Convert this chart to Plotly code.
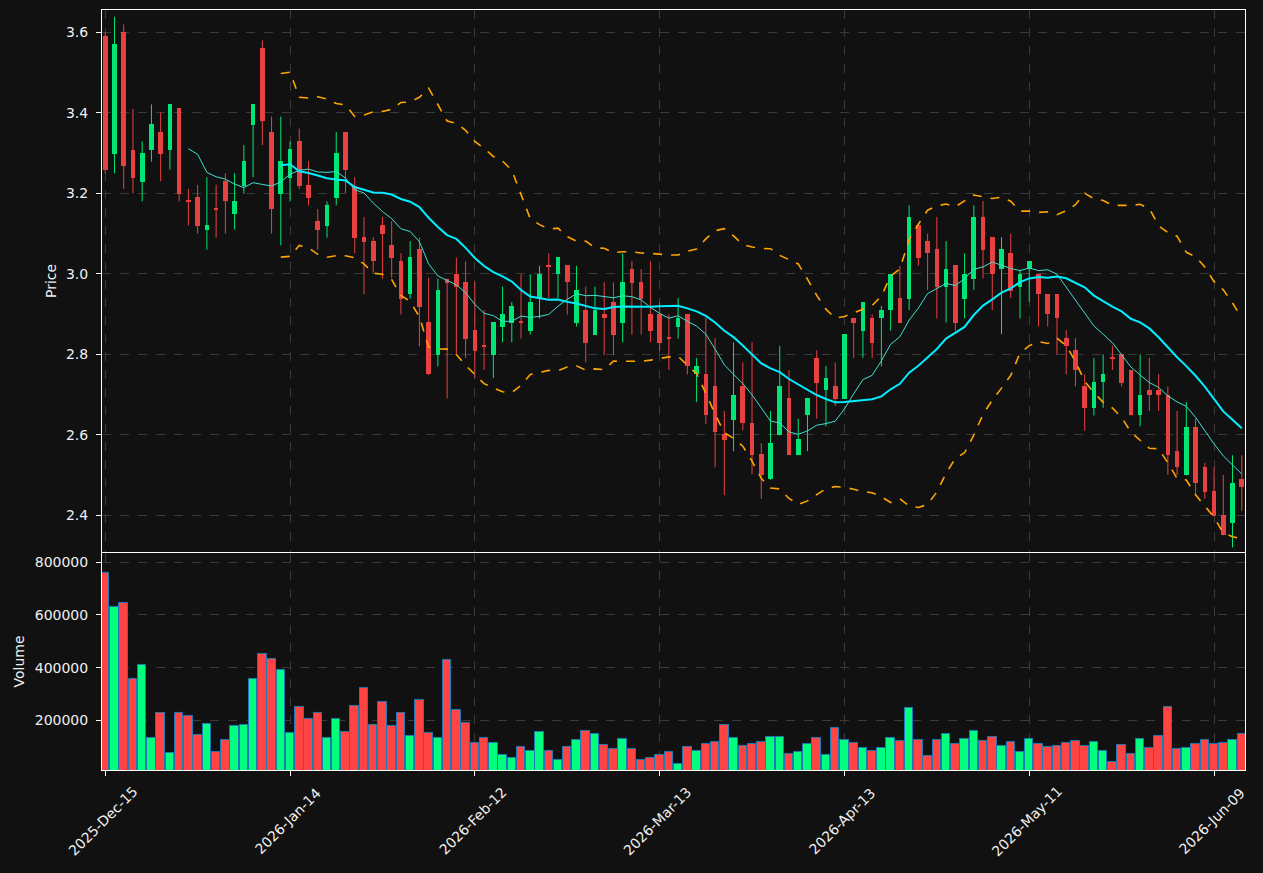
import numpy as np
import pandas as pd
import plotly.graph_objects as go
from plotly.subplots import make_subplots

# ---------------- data ----------------
holidays = ["2025-12-25", "2026-01-01", "2026-01-19", "2026-02-16", "2026-04-03", "2026-05-25"]
dates = [d for d in pd.bdate_range("2025-12-15", "2026-06-12") if d.strftime("%Y-%m-%d") not in holidays]
date_keys = [d.strftime("%Y-%m-%d") for d in dates]
date_labels = [d.strftime("%Y-%b-%d") for d in dates]

opens = [3.591, 3.299, 3.600, 3.309, 3.229, 3.308, 3.353, 3.308, 3.412, 3.181,
         3.191, 3.110, 3.162, 3.231, 3.149, 3.219, 3.371, 3.561, 3.353, 3.199,
         3.239, 3.330, 3.221, 3.131, 3.119, 3.189, 3.353, 3.219, 3.091, 3.082,
         3.122, 3.071, 3.032, 2.949, 3.062, 2.880, 2.798, 2.988, 3.000, 2.980,
         2.860, 2.821, 2.798, 2.869, 2.879, 2.880, 2.859, 2.940, 3.021, 2.999,
         3.022, 2.879, 2.910, 2.849, 2.900, 2.930, 2.879, 3.012, 2.979, 2.900,
         2.900, 2.841, 2.869, 2.900, 2.750, 2.752, 2.722, 2.601, 2.637, 2.722,
         2.629, 2.551, 2.490, 2.599, 2.692, 2.549, 2.648, 2.791, 2.711, 2.720,
         2.690, 2.891, 2.859, 2.891, 2.889, 2.910, 2.940, 2.938, 3.122, 3.082,
         3.062, 2.968, 3.022, 2.938, 2.988, 3.142, 3.091, 3.012, 3.051, 2.968,
         3.012, 3.000, 2.949, 2.949, 2.840, 2.810, 2.720, 2.667, 2.731, 2.792,
         2.800, 2.761, 2.648, 2.711, 2.711, 2.700, 2.559, 2.500, 2.620, 2.520,
         2.460, 2.400, 2.380, 2.490]
highs = [3.600, 3.639, 3.620, 3.410, 3.329, 3.421, 3.401, 3.422, 3.412, 3.211,
         3.221, 3.240, 3.221, 3.250, 3.250, 3.320, 3.422, 3.580, 3.391, 3.391,
         3.329, 3.361, 3.280, 3.161, 3.180, 3.353, 3.353, 3.240, 3.141, 3.091,
         3.141, 3.131, 3.051, 3.081, 3.090, 2.990, 2.988, 2.988, 3.040, 3.031,
         2.980, 2.910, 2.880, 2.968, 2.930, 2.999, 2.999, 3.020, 3.051, 3.042,
         3.022, 3.020, 2.968, 2.968, 2.979, 2.979, 3.051, 3.032, 3.012, 3.031,
         2.930, 2.899, 2.940, 2.900, 2.791, 2.891, 2.840, 2.659, 2.830, 2.780,
         2.830, 2.579, 2.659, 2.821, 2.761, 2.640, 2.692, 2.810, 2.771, 2.780,
         2.850, 2.891, 2.930, 2.899, 2.920, 3.000, 3.020, 3.170, 3.122, 3.100,
         3.141, 3.081, 3.022, 3.051, 3.170, 3.181, 3.091, 3.091, 3.100, 3.010,
         3.031, 3.000, 2.949, 2.949, 2.860, 2.840, 2.750, 2.791, 2.800, 2.821,
         2.800, 2.761, 2.800, 2.791, 2.751, 2.720, 2.659, 2.681, 2.640, 2.530,
         2.519, 2.500, 2.549, 2.549]
lows = [3.250, 3.250, 3.211, 3.200, 3.180, 3.279, 3.230, 3.259, 3.180, 3.120,
        3.100, 3.060, 3.090, 3.100, 3.110, 3.199, 3.240, 3.320, 3.100, 3.071,
        3.180, 3.211, 3.170, 3.060, 3.090, 3.170, 3.200, 3.051, 2.949, 3.003,
        2.988, 2.990, 2.899, 2.938, 2.820, 2.748, 2.770, 2.690, 2.802, 2.791,
        2.741, 2.761, 2.741, 2.830, 2.830, 2.839, 2.849, 2.889, 2.940, 2.940,
        2.899, 2.869, 2.780, 2.849, 2.798, 2.798, 2.830, 2.849, 2.849, 2.830,
        2.807, 2.761, 2.839, 2.750, 2.681, 2.627, 2.519, 2.450, 2.559, 2.611,
        2.502, 2.441, 2.488, 2.599, 2.549, 2.549, 2.559, 2.640, 2.621, 2.672,
        2.690, 2.791, 2.791, 2.791, 2.770, 2.859, 2.879, 2.910, 3.020, 2.960,
        2.889, 2.879, 2.859, 2.889, 2.960, 2.988, 2.910, 2.850, 2.940, 2.889,
        2.930, 2.869, 2.869, 2.800, 2.750, 2.720, 2.610, 2.648, 2.667, 2.761,
        2.720, 2.648, 2.621, 2.659, 2.659, 2.500, 2.500, 2.499, 2.450, 2.441,
        2.399, 2.350, 2.320, 2.411]
closes = [3.258, 3.571, 3.269, 3.239, 3.301, 3.372, 3.299, 3.422, 3.199, 3.179,
          3.119, 3.122, 3.160, 3.180, 3.181, 3.281, 3.422, 3.379, 3.160, 3.281,
          3.310, 3.219, 3.189, 3.110, 3.171, 3.301, 3.259, 3.090, 3.080, 3.031,
          3.100, 3.040, 2.938, 3.042, 2.918, 2.750, 2.960, 2.977, 2.968, 2.839,
          2.808, 2.819, 2.880, 2.900, 2.920, 2.878, 2.930, 2.999, 3.019, 3.042,
          2.979, 2.960, 2.828, 2.910, 2.889, 2.849, 2.979, 2.977, 2.938, 2.859,
          2.828, 2.839, 2.891, 2.770, 2.771, 2.648, 2.608, 2.588, 2.700, 2.629,
          2.549, 2.500, 2.579, 2.720, 2.549, 2.590, 2.692, 2.729, 2.741, 2.690,
          2.850, 2.879, 2.930, 2.828, 2.910, 3.000, 2.879, 3.142, 3.040, 3.051,
          2.968, 3.012, 2.879, 3.000, 3.142, 3.060, 3.000, 3.062, 2.958, 3.000,
          3.031, 2.949, 2.899, 2.889, 2.820, 2.761, 2.667, 2.731, 2.751, 2.790,
          2.729, 2.648, 2.700, 2.700, 2.700, 2.549, 2.519, 2.620, 2.480, 2.458,
          2.399, 2.350, 2.480, 2.469]
volumes = [758000, 631700, 644300, 355700, 408900, 131700, 226600, 74700, 226600, 215200,
           143000, 184800, 78500, 124100, 177200, 181000, 355700, 450600, 431700, 389900,
           150600, 249400, 203800, 226600, 131700, 203800, 154400, 253200, 321500, 181000,
           268400, 177200, 226600, 139300, 276000, 150600, 131700, 427900, 238000, 188600,
           112700, 131700, 112700, 67100, 55700, 97500, 82300, 154400, 82300, 48100,
           97500, 124100, 158200, 146800, 105100, 89900, 127900, 89900, 48100, 55700,
           67100, 78500, 32900, 97500, 82300, 108900, 116500, 181000, 131700, 101300,
           108900, 116500, 135500, 135500, 70900, 78500, 108900, 131700, 67100, 169600,
           124100, 112700, 93700, 82300, 93700, 131700, 120300, 245600, 124100, 63300,
           124100, 146800, 108900, 127900, 158200, 120300, 135500, 101300, 116500, 78500,
           127900, 108900, 97500, 101300, 112700, 120300, 101300, 116500, 82300, 40500,
           105100, 70900, 127900, 93700, 139300, 249400, 89900, 93700, 108900, 124100,
           108900, 112700, 124100, 146800]

price_ticks = [2.4, 2.6, 2.8, 3.0, 3.2, 3.4, 3.6]
volume_ticks = [200000, 400000, 600000, 800000]

# ---------------- indicators ----------------
cs = pd.Series(closes)
ma10 = cs.rolling(10).mean()
ma20 = cs.rolling(20).mean()
sd20 = cs.rolling(20).std(ddof=0)
bb_up = ma20 + 2 * sd20
bb_lo = ma20 - 2 * sd20

UP_C = "#00e676"
DN_C = "#e84142"
VUP_C = "#00ff7f"
VDN_C = "#ff4444"
BG = "#111111"
GRID = "#3a3a3a"
TXT = "#f0f0f0"
FONT = "DejaVu Sans"

is_up = [c >= o for o, c in zip(opens, closes)]

fig = make_subplots(rows=2, cols=1, shared_xaxes=True,
                    row_heights=[0.714, 0.286], vertical_spacing=0.0013)

# wicks
for flag, col in [(True, UP_C), (False, DN_C)]:
    wx, wy = [], []
    for k, d in enumerate(date_keys):
        if is_up[k] == flag:
            wx += [d, d, None]
            wy += [lows[k], highs[k], None]
    fig.add_trace(go.Scatter(x=wx, y=wy, mode="lines", line=dict(color=col, width=1),
                             hoverinfo="skip"), row=1, col=1)

# bodies
for flag, col in [(True, UP_C), (False, DN_C)]:
    bx, bb, bh = [], [], []
    for k, d in enumerate(date_keys):
        if is_up[k] == flag:
            bx.append(d)
            bb.append(min(opens[k], closes[k]))
            bh.append(max(abs(closes[k] - opens[k]), 0.0025))
    fig.add_trace(go.Bar(x=bx, y=bh, base=bb, width=0.5, marker=dict(color=col, line=dict(width=0))),
                  row=1, col=1)

# overlays
fig.add_trace(go.Scatter(x=date_keys, y=ma10, mode="lines", line=dict(color="#40e0d0", width=1)), row=1, col=1)
fig.add_trace(go.Scatter(x=date_keys, y=ma20, mode="lines", line=dict(color="#00eeff", width=2)), row=1, col=1)
fig.add_trace(go.Scatter(x=date_keys, y=bb_up, mode="lines", line=dict(color="#ffa500", width=1.6, dash="dash")), row=1, col=1)
fig.add_trace(go.Scatter(x=date_keys, y=bb_lo, mode="lines", line=dict(color="#ffa500", width=1.6, dash="dash")), row=1, col=1)

# volume
fig.add_trace(go.Bar(x=date_keys, y=volumes, width=0.92,
                     marker=dict(color=[VUP_C if u else VDN_C for u in is_up],
                                 line=dict(color="#1f77b4", width=1))),
              row=2, col=1)

tick_idx = list(range(0, len(date_keys), 20))
axis_common = dict(showline=True, linecolor="white", linewidth=1, mirror=True,
                   showgrid=True, gridcolor=GRID, griddash="dash", gridwidth=1,
                   ticks="outside", tickcolor="white", ticklen=5,
                   tickfont=dict(color=TXT, size=14, family=FONT),
                   zeroline=False)

for r in (1, 2):
    fig.update_xaxes(type="category", categoryorder="array", categoryarray=date_keys,
                     range=[-0.35, len(date_keys) - 0.65],
                     tickmode="array", tickvals=[date_keys[i] for i in tick_idx],
                     ticktext=[date_labels[i] for i in tick_idx],
                     showticklabels=False,
                     **axis_common, row=r, col=1)

# rotated date labels centred under their ticks (real text)
for i in tick_idx:
    fig.add_annotation(x=date_keys[i], y=-0.0675, xref="x2", yref="paper",
                       text=date_labels[i], textangle=-45, showarrow=False,
                       xanchor="center", yanchor="middle", xshift=-2,
                       font=dict(color=TXT, size=14, family=FONT))

fig.update_yaxes(range=[2.3088, 3.6557], tickmode="array", tickvals=price_ticks,
                 ticktext=[f"{v:.1f}" for v in price_ticks], ticklabelstandoff=5,
                 title=dict(text="Price", font=dict(color=TXT, size=14, family=FONT), standoff=6),
                 **axis_common, row=1, col=1)
fig.update_yaxes(range=[11300, 835300], tickmode="array", tickvals=volume_ticks,
                 ticktext=[str(v) for v in volume_ticks], ticklabelstandoff=5,
                 title=dict(text="Volume", font=dict(color=TXT, size=14, family=FONT), standoff=6),
                 **axis_common, row=2, col=1)

fig.update_layout(width=1263, height=873, margin=dict(l=102, r=18, t=10, b=103),
                  paper_bgcolor=BG, plot_bgcolor=BG, showlegend=False,
                  barmode="overlay", bargap=0,
                  font=dict(family=FONT, color=TXT))

fig.write_html("out.html")
